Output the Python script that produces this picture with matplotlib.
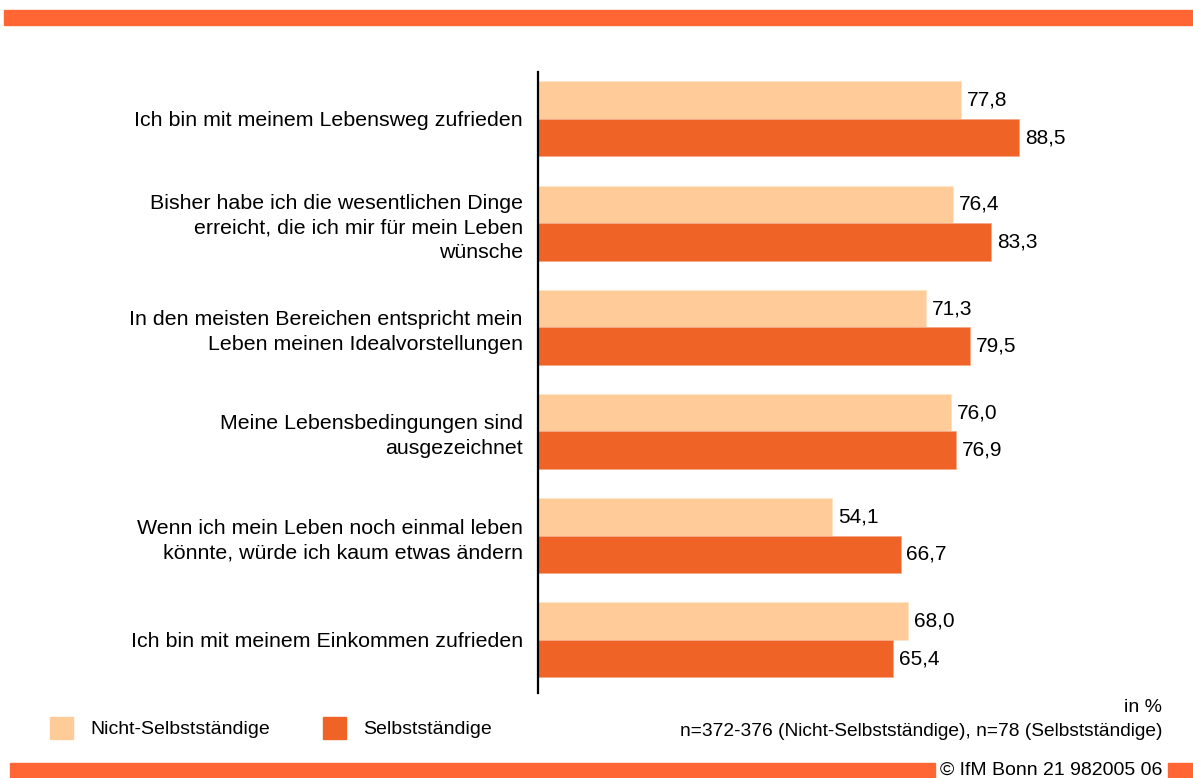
import matplotlib
matplotlib.use("Agg")
import matplotlib.pyplot as plt
from matplotlib.patches import Rectangle

plt.rcParams["font.family"] = ["Liberation Sans", "DejaVu Sans"]

# data
categories = [
    "Ich bin mit meinem Lebensweg zufrieden",
    "Bisher habe ich die wesentlichen Dinge\nerreicht, die ich mir für mein Leben\nwünsche",
    "In den meisten Bereichen entspricht mein\nLeben meinen Idealvorstellungen",
    "Meine Lebensbedingungen sind\nausgezeichnet",
    "Wenn ich mein Leben noch einmal leben\nkönnte, würde ich kaum etwas ändern",
    "Ich bin mit meinem Einkommen zufrieden",
]
nicht_selbst = [77.8, 76.4, 71.3, 76.0, 54.1, 68.0]
selbst = [88.5, 83.3, 79.5, 76.9, 66.7, 65.4]
series_names = ["Nicht-Selbstständige", "Selbstständige"]
footnote_unit = "in %"
footnote_n = "n=372-376 (Nicht-Selbstständige), n=78 (Selbstständige)"
copyright_text = "© IfM Bonn 21 982005 06"

LIGHT = "#FFCC99"
DARK = "#EF6327"
BAND = "#FF6633"

W, H = 1193, 778
fig = plt.figure(figsize=(W / 100, H / 100), dpi=100)


def fx(px):
    return px / W


def fy(py):
    return 1 - py / H


# axes placed in pixel terms
ax = fig.add_axes([fx(538), fy(693), fx(543.5), (693 - 72) / H])

ypos = list(range(len(categories)))
off = 0.18
hgt = 0.36
ax.barh([y - off for y in ypos], nicht_selbst, height=hgt, color=LIGHT,
        edgecolor="#FFE3C8", linewidth=0.6)
ax.barh([y + off for y in ypos], selbst, height=hgt, color=DARK,
        edgecolor="#F7A98A", linewidth=0.6)

for y, a, b in zip(ypos, nicht_selbst, selbst):
    ax.text(a + 1.1, y - off, f"{a:.1f}".replace(".", ","), va="center",
            ha="left", fontsize=15)
    ax.text(b + 1.1, y + off, f"{b:.1f}".replace(".", ","), va="center",
            ha="left", fontsize=15)

ax.set_xlim(0, 100)
ax.set_ylim(5.51, -0.45)
ax.set_yticks(ypos)
ax.set_yticklabels(categories, fontsize=15.4, linespacing=1.38)
ax.tick_params(axis="y", length=0, pad=11)
ax.set_xticks([])
for s in ["top", "right", "bottom"]:
    ax.spines[s].set_visible(False)
ax.spines["left"].set_linewidth(1.6)
ax.spines["left"].set_color("black")

# top band
fig.patches.append(Rectangle((fx(4), fy(25)), 1 - fx(4), 15 / H,
                             transform=fig.transFigure, color=BAND, zorder=0))
# bottom band with copyright gap
fig.patches.append(Rectangle((fx(10), 0), fx(935 - 10), 15 / H,
                             transform=fig.transFigure, color=BAND, zorder=0))
fig.patches.append(Rectangle((fx(1168), 0), fx(1193 - 1168), 15 / H,
                             transform=fig.transFigure, color=BAND, zorder=0))
fig.text(fx(1162), fy(770), copyright_text, ha="right", va="center",
         fontsize=14)

# legend
fig.patches.append(Rectangle((fx(50), fy(739)), fx(23), 22 / H,
                             transform=fig.transFigure, color=LIGHT))
fig.text(fx(90), fy(729), series_names[0], ha="left", va="center",
         fontsize=14)
fig.patches.append(Rectangle((fx(323), fy(739)), fx(23), 22 / H,
                             transform=fig.transFigure, color=DARK))
fig.text(fx(363), fy(729), series_names[1], ha="left", va="center",
         fontsize=14)

fig.text(fx(1162), fy(707), footnote_unit, ha="right", va="center",
         fontsize=14)
fig.text(fx(1162), fy(731), footnote_n, ha="right", va="center",
         fontsize=13.8)

fig.savefig("out.png", dpi=100)
